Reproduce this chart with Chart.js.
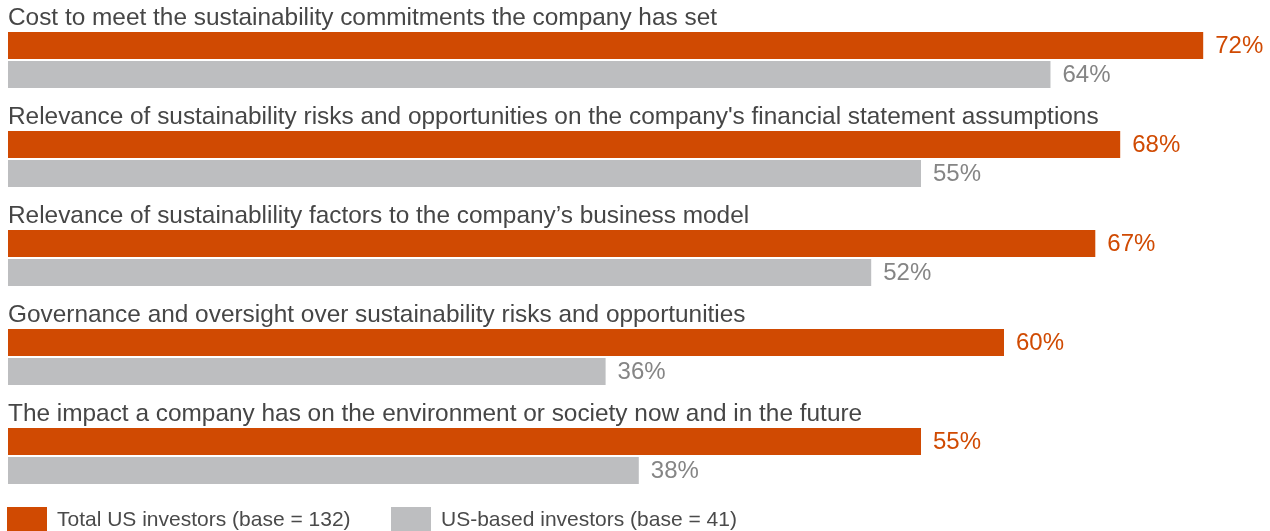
<!DOCTYPE html>
<html lang="en">
<head>
  <meta charset="UTF-8" />
  <title>Sustainability information investors want</title>
  <script src="https://cdn.jsdelivr.net/npm/chart.js"></script>
  <style>
    html, body {
      margin: 0;
      padding: 0;
      background: #fff;
    }
    #wrap {
      position: relative;
      width: 1270px;
      height: 531px;
      overflow: hidden;
    }
    #chart {
      position: absolute;
      left: 0;
      top: 0;
    }
    #legend {
      position: absolute;
      left: 7px;
      top: 507px;
      height: 24px;
      font: 21px "Liberation Sans", Arial, sans-serif;
      color: #4a4a4a;
    }
    .item {
      position: absolute;
      top: 0;
      white-space: nowrap;
      line-height: 24px;
    }
    .box {
      display: inline-block;
      width: 40px;
      height: 24px;
      vertical-align: top;
      margin-right: 10px;
    }
  </style>
  <script>
    const categories = [
      "Cost to meet the sustainability commitments the company has set",
      "Relevance of sustainability risks and opportunities on the company's financial statement assumptions",
      "Relevance of sustainablility factors to the company\u2019s business model",
      "Governance and oversight over sustainability risks and opportunities",
      "The impact a company has on the environment or society now and in the future"
    ];

    // bar lengths as drawn in the picture (a few bars are shorter than their printed label)
    const totalUS = [72, 67, 65.5, 60, 55];
    const usBased = [62.8, 55, 52, 36, 38];

    // percentages printed next to the bars
    const totalLabels = ["72%", "68%", "67%", "60%", "55%"];
    const usBasedLabels = ["64%", "55%", "52%", "36%", "38%"];

    const seriesNames = ["Total US investors (base = 132)", "US-based investors (base = 41)"];

    const orange = "#D04A02";
    const grey = "#BDBEC0";
    const textColor = "#464646";
    const greyText = "#858585";
    const catFont = '24.4px "Liberation Sans", Arial, sans-serif';
    const valueFont = '24px "Liberation Sans", Arial, sans-serif';

    const valueLabels = [totalLabels, usBasedLabels];
    const labelColors = [orange, greyText];

    const labelPlugin = {
      id: "barLabels",
      afterDatasetsDraw(chart) {
        const ctx = chart.ctx;
        ctx.save();
        ctx.textAlign = "left";

        // category names sit above each pair of bars
        ctx.font = catFont;
        ctx.textBaseline = "alphabetic";
        ctx.fillStyle = textColor;
        chart.getDatasetMeta(0).data.forEach((bar, i) => {
          ctx.fillText(categories[i], 8, bar.y - bar.height / 2 - 7);
        });

        // percentages right of the bars
        ctx.font = valueFont;
        ctx.textBaseline = "middle";
        chart.data.datasets.forEach((ds, d) => {
          ctx.fillStyle = labelColors[d];
          chart.getDatasetMeta(d).data.forEach((bar, i) => {
            ctx.fillText(valueLabels[d][i], bar.x + 12, bar.y + 1);
          });
        });
        ctx.restore();
      }
    };

    window.onload = () => {
      const ctx = document.getElementById("chart").getContext("2d");
      new Chart(ctx, {
        type: "bar",
        data: {
          labels: categories,
          datasets: [
            { label: seriesNames[0], data: totalUS, backgroundColor: orange },
            { label: seriesNames[1], data: usBased, backgroundColor: grey }
          ]
        },
        options: {
          indexAxis: "y",
          responsive: false,
          animation: false,
          categoryPercentage: 0.586,
          barPercentage: 0.931,
          layout: {
            padding: { left: 8, right: 17, top: 10.5, bottom: 25.5 }
          },
          plugins: {
            legend: { display: false },
            tooltip: { enabled: false }
          },
          scales: {
            x: { display: false, min: 0, max: 75 },
            y: { display: false }
          }
        },
        plugins: [labelPlugin]
      });

      const legend = document.getElementById("legend");
      const lefts = [0, 384];
      seriesNames.forEach((name, i) => {
        const item = document.createElement("div");
        item.className = "item";
        item.style.left = lefts[i] + "px";
        item.innerHTML = `<span class="box" style="background:${i === 0 ? orange : grey}"></span>${name}`;
        legend.appendChild(item);
      });
    };
  </script>
</head>
<body>
  <div id="wrap">
    <canvas id="chart" width="1270" height="531"></canvas>
    <div id="legend"></div>
  </div>
</body>
</html>
